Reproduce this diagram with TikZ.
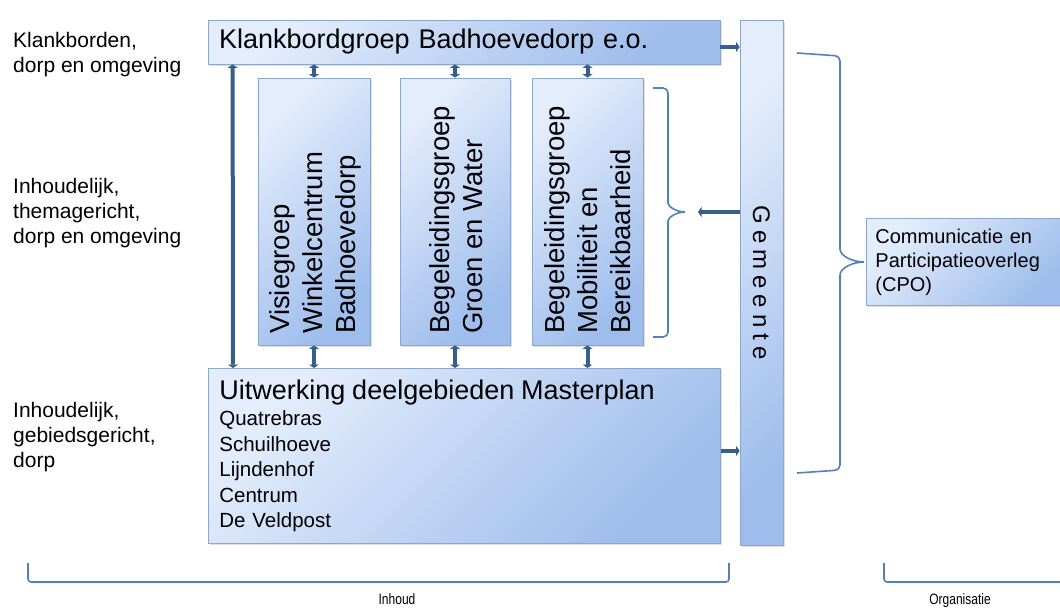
\documentclass[tikz,border=0pt]{standalone}
\usepackage{fontspec}
\setmainfont{Liberation Sans}
\newfontfamily\narrowfont[FakeStretch=0.8]{Liberation Sans}
\usepackage{tikz}
\usetikzlibrary{arrows.meta,shadows}
\definecolor{boxlight}{RGB}{228,237,252}
\definecolor{boxdark}{RGB}{158,189,236}
\definecolor{boxline}{RGB}{140,166,204}
\definecolor{arrowblue}{RGB}{56,94,140}
\definecolor{bracketblue}{RGB}{84,128,186}

\begin{document}
\begin{tikzpicture}[x=1pt, y=-1pt,
	box/.style={draw=boxline, line width=0.8pt, top color=boxlight, bottom color=boxdark, shading angle=45,
		drop shadow={shadow xshift=1.5pt, shadow yshift=-1.5pt, opacity=0.25}, inner sep=0pt},
	vtext/.style={rotate=90, align=left, anchor=west, inner sep=0pt, font=\fontsize{27.5}{33}\selectfont},
	lefttext/.style={anchor=north west, align=left, inner sep=0pt, font=\fontsize{21}{25}\selectfont},
	conn/.style={{Triangle[length=3.5pt,width=10pt]}-{Triangle[length=3.5pt,width=10pt]}, line width=4pt, arrowblue},
	conn1/.style={-{Triangle[length=3.5pt,width=10pt]}, line width=4pt, arrowblue},
	brk/.style={bracketblue, line width=1.6pt, rounded corners=5pt},
	small/.style={font=\narrowfont\fontsize{15}{17}\selectfont, inner sep=0pt, anchor=base}]
	\useasboundingbox (0,0) rectangle (1060,608);

	% boxes
	\node (klank) [box, minimum width=512pt, minimum height=44pt, text width=490pt, align=left,
		font=\fontsize{27}{30}\selectfont] at (464,42) {Klankbordgroep Badhoevedorp e.o.};
	\node (gem) [box, minimum width=43pt, minimum height=525pt] at (761.5,282.5) {};
	\node (gemtxt) [rotate=-90, inner sep=0pt, font=\fontsize{24}{28}\selectfont] at (gem.center)
		{G\kern6pt e\kern6pt m\kern6pt e\kern6pt e\kern6pt n\kern6pt t\kern6pt e};

	\node (vis) [box, minimum width=112pt, minimum height=267pt] at (314,211.5) {};
	\node (grw) [box, minimum width=110pt, minimum height=267pt] at (455,211.5) {};
	\node (mob) [box, minimum width=111pt, minimum height=267pt] at (587.5,211.5) {};
	\node (vistxt) [vtext] at (315,334) {Visiegroep\\Winkelcentrum\\Badhoevedorp};
	\node (grwtxt) [vtext] at (456,334) {Begeleidingsgroep\\Groen en Water};
	\node (mobtxt) [vtext] at (588,334) {Begeleidingsgroep\\Mobiliteit en\\Bereikbaarheid};

	\node (uitw) [box, anchor=north west, minimum width=512pt, minimum height=175pt, text width=490pt,
		align=left, font=\fontsize{20.5}{25.4}\selectfont] at (208,368)
		{{\fontsize{27}{30}\selectfont Uitwerking deelgebieden Masterplan}\\[1pt]
		Quatrebras\\Schuilhoeve\\Lijndenhof\\Centrum\\De Veldpost};

	\node (cpo) [box, anchor=north west, minimum width=200pt, minimum height=87pt, text width=182pt,
		align=left, font=\fontsize{20}{24}\selectfont] at (866,218)
		{Communicatie en\\Participatieoverleg\\(CPO)};

	% labels on the left
	\node (lab1) [lefttext] at (13,32) {Klankborden,\\dorp en omgeving};
	\node (lab2) [lefttext] at (13,178) {Inhoudelijk,\\themagericht,\\dorp en omgeving};
	\node (lab3) [lefttext] at (13,402) {Inhoudelijk,\\gebiedsgericht,\\dorp};

	% connections
	\foreach \g in {vis,grw,mob} {
		\draw[conn] (\g.north |- klank.south) -- (\g.north);
		\draw[conn] (\g.south) -- (\g.south |- uitw.north);
	}
	\draw[conn] ([xshift=25pt]klank.south west) -- ([xshift=25pt]uitw.north west);
	\draw[conn1] ([yshift=-5pt]klank.east) -- ([yshift=-5pt]klank.east -| gem.west);
	\draw[conn1] ([yshift=5pt]uitw.east) -- ([yshift=5pt]uitw.east -| gem.west);
	\coordinate (midtip) at (698,212);
	\draw[conn1] (midtip -| gem.west) -- (midtip);

	% brackets
	\draw[brk] (653,88) -- (668,88) -- (668,198) to[out=-90,in=180] (685,212);
	\draw[brk] (685,212) to[out=180,in=90] (668,226) -- (668,337) -- (653,337);
	\draw[brk] (797,53) -- (840,56) -- (840,244) to[out=-90,in=180] (864,262);
	\draw[brk] (864,262) to[out=180,in=90] (840,280) -- (840,470) -- (797,473);
	\draw[brk, rounded corners=3pt] (28,563) -- (28,582) -- (729,582) -- (729,563);
	\draw[brk, rounded corners=3pt] (884,563) -- (884,582) -- (1064,582);

	\node (inhoud) [small] at (397,604) {Inhoud};
	\node (organ) [small] at (960,604) {Organisatie};
\end{tikzpicture}
\end{document}
